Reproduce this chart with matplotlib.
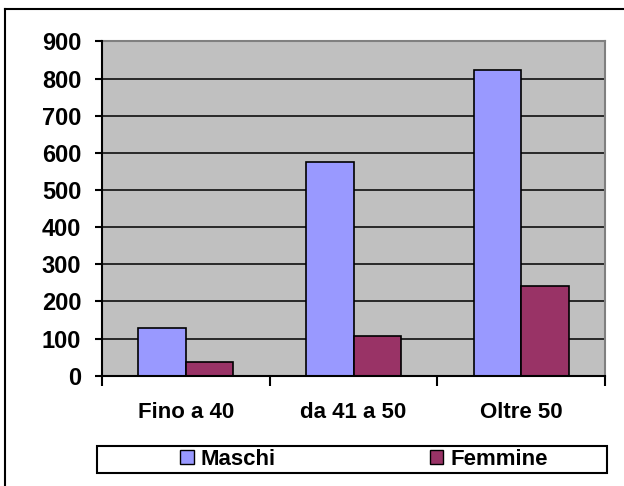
import matplotlib
matplotlib.use("Agg")
from matplotlib import pyplot as plt
from matplotlib.patches import Rectangle, Patch
from matplotlib.lines import Line2D
import numpy as np

categories = ["Fino a 40", "da 41 a 50", "Oltre 50"]
maschi = [128, 576, 823]
femmine = [37, 106, 242]
series_names = ["Maschi", "Femmine"]
colors = ["#9999FF", "#993366"]

plt.rcParams['font.family'] = ['Liberation Sans', 'DejaVu Sans']
plt.rcParams['font.weight'] = 'bold'
fs = 16

W, H = 624, 486
fig = plt.figure(figsize=(W/100, H/100), dpi=100)
ax = fig.add_axes([102/W, 1-375.7/H, (605-102)/W, (375.7-41.5)/H])
ax.set_facecolor("#C0C0C0")

x = np.arange(len(categories))
bw = 0.284
ax.bar(x - bw/2, maschi, bw, color=colors[0], edgecolor="black", linewidth=1.2, zorder=3)
ax.bar(x + bw/2, femmine, bw, color=colors[1], edgecolor="black", linewidth=1.2, zorder=3)

ax.set_xlim(-0.5, 2.5)
ax.set_ylim(0, 900)
ax.set_yticks(np.arange(0, 901, 100))
ax.yaxis.grid(True, color="black", linewidth=1.1, zorder=1)
ax.set_axisbelow(True)

# category boundaries as ticks, labels on centers
ax.set_xticks([-0.5, 0.5, 1.5, 2.5])
ax.set_xticklabels([])
ax.set_xticks(x, minor=True)
ax.set_xticklabels(categories, minor=True, fontsize=fs, fontweight='bold')
ax.tick_params(axis='x', which='major', length=7, width=1.5, direction='out')
ax.tick_params(axis='x', which='minor', length=0, pad=19)
ax.tick_params(axis='y', length=5, width=1.5, pad=10, labelsize=17)
for lab in ax.get_yticklabels():
    lab.set_fontweight('bold')

ax.spines['left'].set_linewidth(1.5)
ax.spines['bottom'].set_linewidth(1.5)
ax.spines['left'].set_zorder(4)
ax.spines['bottom'].set_zorder(4)
ax.spines['top'].set_color("#808080")
ax.spines['right'].set_color("#808080")
ax.spines['top'].set_linewidth(1.5)
ax.spines['right'].set_linewidth(1.5)

# legend box
fig.patches.append(Rectangle((97/W, 1-473/H), (607-97)/W, (473-446)/H,
                             transform=fig.transFigure, facecolor="white",
                             edgecolor="black", linewidth=1.5))
handles = [Patch(facecolor=c, edgecolor="black", linewidth=1.0) for c in colors]
fig.legend(handles, series_names, loc='center', bbox_to_anchor=(364/W, 1-459.5/H),
           ncol=2, frameon=False, handlelength=0.6, handleheight=0.6,
           handletextpad=0.3, columnspacing=6.95, prop={'weight': 'bold', 'size': fs})

# outer border
fig.add_artist(Line2D([5/W, 5/W], [0, 1-9/H], transform=fig.transFigure, color="black", linewidth=1.5))
fig.add_artist(Line2D([5/W, 1], [1-9/H, 1-9/H], transform=fig.transFigure, color="black", linewidth=1.5))

fig.savefig("out.png", dpi=100)
